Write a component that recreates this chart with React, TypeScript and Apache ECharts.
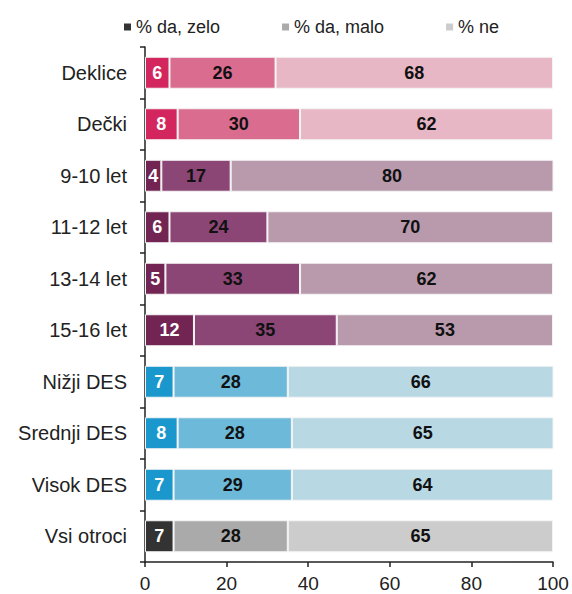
import React, { useEffect, useRef } from "react";
import * as echarts from "echarts";

const categories = [
  "Deklice", "Dečki", "9-10 let", "11-12 let", "13-14 let", "15-16 let",
  "Nižji DES", "Srednji DES", "Visok DES", "Vsi otroci",
];
const seriesNames = ["% da, zelo", "% da, malo", "% ne"];
const daZelo = [6, 8, 4, 6, 5, 12, 7, 8, 7, 7];
const daMalo = [26, 30, 17, 24, 33, 35, 28, 28, 29, 28];
const ne = [68, 62, 80, 70, 62, 53, 66, 65, 64, 65];
const xTicks = [0, 20, 40, 60, 80, 100];

// colour group per category: 0 = gender, 1 = age, 2 = DES, 3 = all
const groupOfRow = [0, 0, 1, 1, 1, 1, 2, 2, 2, 3];
const palette = [
  ["#d4265e", "#da6c8f", "#e8b7c6"],
  ["#722552", "#8c4676", "#b89aac"],
  ["#1a98cd", "#6cb9da", "#b8d8e4"],
  ["#333333", "#aaaaaa", "#cccccc"],
];
const legendColors = ["#333333", "#aaaaaa", "#cccccc"];

const FONT = "'Liberation Sans', Arial, sans-serif";

export default function App() {
  const ref = useRef<HTMLDivElement>(null);
  useEffect(() => {
    if (!ref.current) return;
    const chart = echarts.init(ref.current, undefined, { renderer: "svg" });
    const all = [daZelo, daMalo, ne];
    const series = all.map((vals, si) => ({
      name: seriesNames[si],
      type: "bar",
      stack: "total",
      barWidth: 32,
      itemStyle: { color: legendColors[si] },
      label: {
        show: true,
        position: "inside",
        fontFamily: FONT,
        fontSize: 18,
        fontWeight: "bold",
        color: si === 0 ? "#ffffff" : "#111111",
      },
      data: vals.map((v, i) => ({
        value: v,
        itemStyle: {
          color: palette[groupOfRow[i]][si],
          borderColor: "#f4f4f4",
          borderWidth: 1,
        },
      })),
    }));
    chart.setOption({
      animation: false,
      textStyle: { fontFamily: FONT },
      legend: {
        top: 13,
        left: 119,
        itemWidth: 7,
        itemHeight: 7,
        itemGap: 62,
        icon: "rect",
        textStyle: { fontFamily: FONT, fontSize: 18, color: "#222" },
        data: seriesNames.map((n, i) => ({ name: n, itemStyle: { color: legendColors[i] } })),
      },
      grid: { left: 145, right: 19, top: 47, bottom: 32, containLabel: false },
      xAxis: {
        type: "value",
        min: xTicks[0],
        max: xTicks[xTicks.length - 1],
        interval: 20,
        axisLine: { show: true, lineStyle: { color: "#222", width: 1.5 } },
        axisTick: { show: true, length: 5, lineStyle: { color: "#222", width: 1.5 } },
        splitLine: { show: false },
        axisLabel: { fontFamily: FONT, fontSize: 19, color: "#222", margin: 12 },
      },
      yAxis: {
        type: "category",
        inverse: true,
        data: categories,
        axisLine: { show: true, lineStyle: { color: "#222", width: 1.5 } },
        axisTick: { show: true, length: 5, lineStyle: { color: "#222", width: 1.5 } },
        axisLabel: { fontFamily: FONT, fontSize: 20, color: "#222", margin: 18 },
      },
      series,
    });
    return () => chart.dispose();
  }, []);
  return <div ref={ref} style={{ width: 572, height: 594, position: "absolute", left: 0, top: 0 }} />;
}
